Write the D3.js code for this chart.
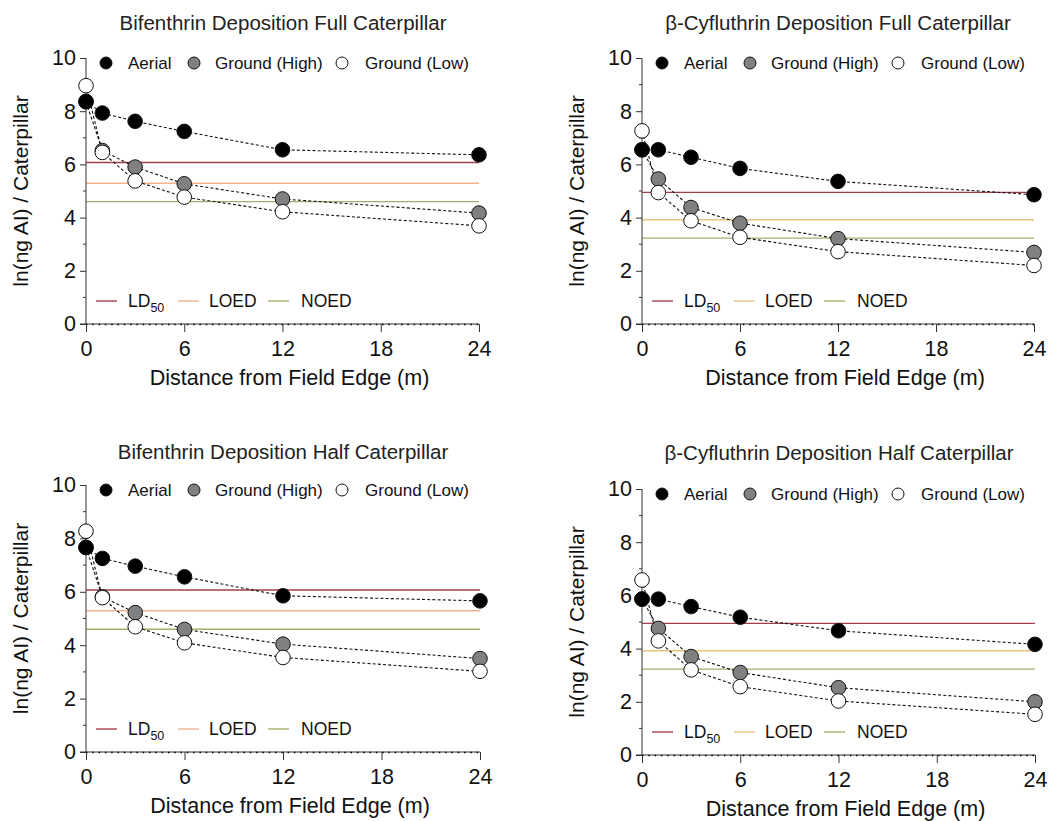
<!DOCTYPE html>
<html>
<head>
<meta charset="utf-8">
<script src="https://cdn.jsdelivr.net/npm/d3@7"></script>
<style>
  body { margin: 0; background: #fff; }
  svg { font-family: "Liberation Sans", Arial, sans-serif; }
</style>
</head>
<body>
<div id="chart"></div>
<script>
// distances sampled from field edge (m)
const distances = [0, 1, 3, 6, 12, 24];
const xTicks = [0, 6, 12, 18, 24];
const yTicks = [0, 2, 4, 6, 8, 10];
const yMinorTicks = [1, 3, 5, 7, 9];
const seriesNames = ["Aerial", "Ground (High)", "Ground (Low)"];
const thresholdNames = ["LD", "LOED", "NOED"];

// ln(ng AI) per caterpillar
const bifFullAerial = [8.37, 7.93, 7.62, 7.24, 6.55, 6.36];
const bifFullHigh = [8.35, 6.52, 5.9, 5.27, 4.7, 4.17];
const bifFullLow = [8.96, 6.45, 5.38, 4.77, 4.22, 3.69];

const cyfFullAerial = [6.55, 6.55, 6.27, 5.85, 5.36, 4.86];
const cyfFullHigh = [6.55, 5.45, 4.38, 3.79, 3.21, 2.69];
const cyfFullLow = [7.26, 4.94, 3.88, 3.26, 2.72, 2.2];

const bifHalfAerial = [7.66, 7.25, 6.96, 6.56, 5.85, 5.66];
const bifHalfHigh = [7.66, 5.81, 5.22, 4.59, 4.04, 3.5];
const bifHalfLow = [8.27, 5.78, 4.69, 4.09, 3.54, 3.02];

const cyfHalfAerial = [5.86, 5.86, 5.58, 5.18, 4.67, 4.16];
const cyfHalfHigh = [5.86, 4.76, 3.7, 3.1, 2.53, 2.0];
const cyfHalfLow = [6.58, 4.29, 3.2, 2.57, 2.03, 1.53];

// LD50, LOED, NOED
const bifThresholds = [6.07, 5.29, 4.6];
const cyfThresholds = [4.95, 3.92, 3.23];

const markerFill = ["#000", "#808080", "#fff"];
const bifLineColors = ["#a23f4c", "#f0b48e", "#9fb06a"];
const cyfLineColors = ["#a23f4c", "#e6c47c", "#9fb06a"];

const svg = d3.select("#chart").append("svg")
  .attr("width", 1051)
  .attr("height", 821);

function drawPanel(p) {
  const x = d3.scaleLinear().domain([0, 24]).range([p.left, p.right]);
  const y = d3.scaleLinear().domain([0, 10]).range([p.bottom, p.top]);
  const g = svg.append("g");

  g.append("text")
    .attr("x", p.titleX).attr("y", p.titleY)
    .attr("text-anchor", "middle")
    .style("font-size", "20.5px").attr("fill", "#222")
    .text(p.title);

  // threshold lines
  p.thresholds.forEach((v, i) => {
    g.append("line")
      .attr("x1", x(0)).attr("x2", x(24))
      .attr("y1", y(v)).attr("y2", y(v))
      .attr("stroke", p.lineColors[i])
      .attr("stroke-width", 1.4);
  });

  // y axis
  const yAxis = g.append("g")
    .attr("transform", "translate(" + p.left + ",0)")
    .call(d3.axisLeft(y).tickValues(yTicks).tickSize(6).tickPadding(4).tickFormat(d3.format("d")));
  yAxis.selectAll(".tick text").style("font-size", "21.5px").attr("fill", "#111");
  yAxis.select(".domain").attr("d", "M0," + y(10) + "V" + y(0));
  yAxis.selectAll("path, line").attr("stroke", "#333");

  g.selectAll(".ymin").data(yMinorTicks).enter().append("line")
    .attr("x1", p.left - 3).attr("x2", p.left)
    .attr("y1", d => y(d)).attr("y2", d => y(d))
    .attr("stroke", "#333");

  // x axis
  const xAxis = g.append("g")
    .attr("transform", "translate(0," + p.bottom + ")")
    .call(d3.axisBottom(x).tickValues(xTicks).tickSize(8).tickPadding(9));
  xAxis.selectAll(".tick text").style("font-size", "21.5px").attr("fill", "#111");
  xAxis.select(".domain").attr("d", "M" + (p.left - 6) + ",0H" + x(24));
  xAxis.selectAll("path, line").attr("stroke", "#333");

  // dotted zero line
  g.append("line")
    .attr("x1", x(0)).attr("x2", x(24))
    .attr("y1", y(0) + 0.5).attr("y2", y(0) + 0.5)
    .attr("stroke", "#000").attr("stroke-width", 1.6)
    .attr("stroke-dasharray", "1.5,4.8");

  g.append("text")
    .attr("x", (x(0) + x(24)) / 2 + 7).attr("y", p.bottom + 61)
    .attr("text-anchor", "middle")
    .style("font-size", "21.5px").attr("fill", "#111")
    .text("Distance from Field Edge (m)");

  g.append("text")
    .attr("transform", "translate(" + (p.left - 58) + "," + ((p.top + p.bottom) / 2) + ") rotate(-90)")
    .attr("text-anchor", "middle")
    .style("font-size", "21px").attr("fill", "#111")
    .text("ln(ng AI) / Caterpillar");

  // series lines then markers
  const line = d3.line().x((d, i) => x(distances[i])).y(d => y(d));
  p.series.forEach(s => {
    g.append("path")
      .attr("d", line(s))
      .attr("fill", "none")
      .attr("stroke", "#111")
      .attr("stroke-width", 1.1)
      .attr("stroke-dasharray", "3,2.2");
  });
  [1, 0, 2].forEach(k => {
    g.selectAll(".m" + k).data(p.series[k]).enter().append("circle")
      .attr("cx", (d, i) => x(distances[i]))
      .attr("cy", d => y(d))
      .attr("r", 7.3)
      .attr("fill", markerFill[k])
      .attr("stroke", "#111")
      .attr("stroke-width", 1);
  });

  // top legend
  const legY = p.top + 5;
  const mOff = [20, 108, 256];
  const tOff = [42, 129, 279];
  seriesNames.forEach((name, k) => {
    g.append("circle")
      .attr("cx", p.left + mOff[k]).attr("cy", legY)
      .attr("r", 6)
      .attr("fill", markerFill[k]).attr("stroke", "#111");
    g.append("text")
      .attr("x", p.left + tOff[k]).attr("y", legY + 6)
      .style("font-size", "17px").attr("fill", "#111")
      .text(name);
  });

  // bottom legend
  const lY = p.bottom - 23;
  const lOff = [10, 92, 182];
  const ltOff = [42, 123, 215];
  thresholdNames.forEach((name, k) => {
    g.append("line")
      .attr("x1", p.left + lOff[k]).attr("x2", p.left + lOff[k] + 21)
      .attr("y1", lY).attr("y2", lY)
      .attr("stroke", p.lineColors[k]).attr("stroke-width", 1.4);
    const t = g.append("text")
      .attr("x", p.left + ltOff[k]).attr("y", lY + 6)
      .style("font-size", "17.5px").attr("fill", "#111")
      .text(name);
    if (k === 0) {
      t.append("tspan").attr("dy", 5).style("font-size", "12.5px").text("50");
    }
  });
}

drawPanel({
  title: "Bifenthrin Deposition Full Caterpillar",
  left: 86, right: 479, top: 58, bottom: 324, titleX: 283, titleY: 30,
  series: [bifFullAerial, bifFullHigh, bifFullLow],
  thresholds: bifThresholds, lineColors: bifLineColors
});
drawPanel({
  title: "β-Cyfluthrin Deposition Full Caterpillar",
  left: 642, right: 1034, top: 58, bottom: 324, titleX: 838, titleY: 30,
  series: [cyfFullAerial, cyfFullHigh, cyfFullLow],
  thresholds: cyfThresholds, lineColors: cyfLineColors
});
drawPanel({
  title: "Bifenthrin Deposition Half Caterpillar",
  left: 86, right: 480, top: 485, bottom: 752, titleX: 283, titleY: 459,
  series: [bifHalfAerial, bifHalfHigh, bifHalfLow],
  thresholds: bifThresholds, lineColors: bifLineColors
});
drawPanel({
  title: "β-Cyfluthrin Deposition Half Caterpillar",
  left: 642, right: 1035, top: 489, bottom: 755, titleX: 839, titleY: 460,
  series: [cyfHalfAerial, cyfHalfHigh, cyfHalfLow],
  thresholds: cyfThresholds, lineColors: cyfLineColors
});
</script>
</body>
</html>
